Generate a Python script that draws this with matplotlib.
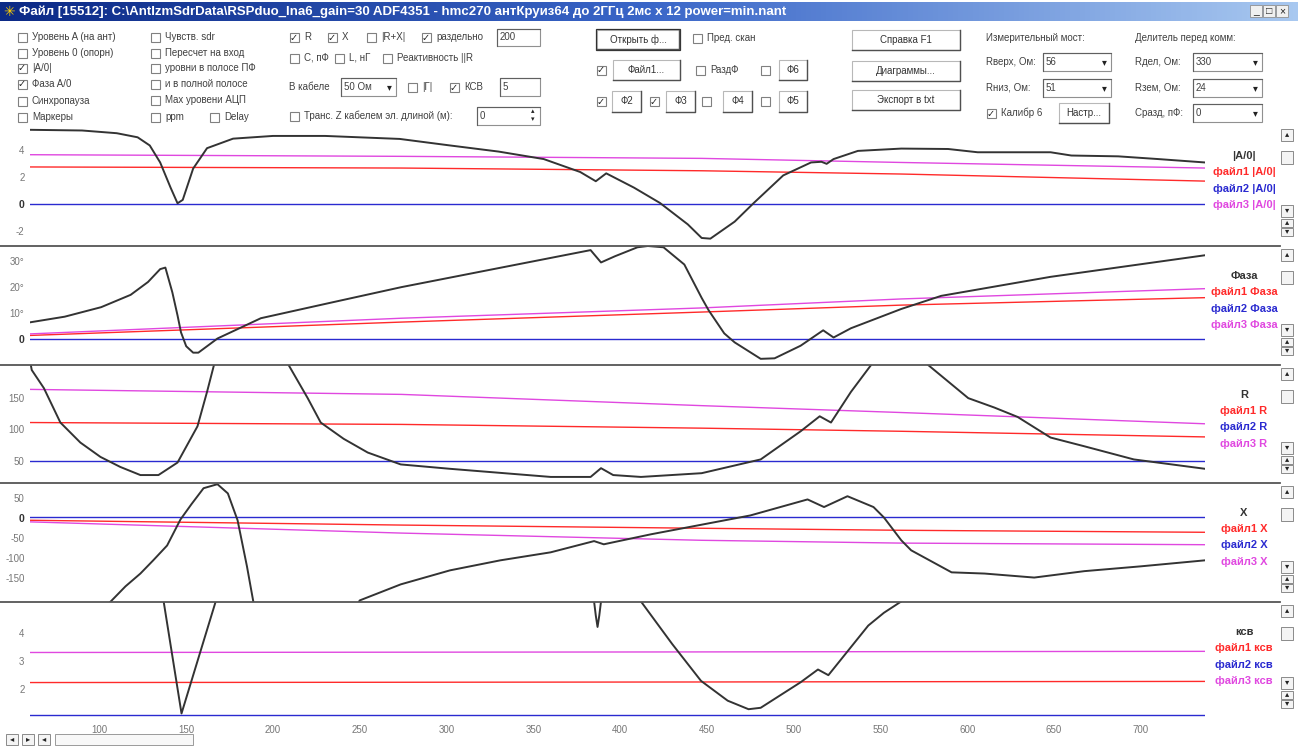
import numpy as np
import matplotlib
matplotlib.use('Agg')
import matplotlib.pyplot as plt
from matplotlib.patches import Rectangle
from matplotlib.colors import LinearSegmentedColormap

plt.rcParams['font.family'] = ['Liberation Sans', 'DejaVu Sans']

W, H = 1298, 746

# ---------------- data ----------------
title = r"Файл [15512]: C:\AntIzmSdrData\RSPduo_lna6_gain=30 ADF4351 - hmc270 антКруиз64 до 2ГГц 2мс x 12 power=min.nant"

freq_ticks = [100, 150, 200, 250, 300, 350, 400, 450, 500, 550, 600, 650, 700]
ref_freq = [60, 274, 447, 562, 737]   # points where reference files were read

# |A/0|
a0_freq = [60, 90, 110, 122, 129, 135, 141, 145, 148, 154, 162, 177, 200, 230, 273, 302, 330, 356, 377, 386,
           392, 408, 423, 439, 447, 452, 466, 477, 494, 510, 516, 519, 523, 537, 562, 589, 606, 648, 660, 687,
           710, 737]
a0_val = [5.45, 5.4, 5.2, 4.9, 4.3, 3.05, 1.2, 0.05, 0.3, 2.6, 4.1, 4.8, 5.0, 5.0, 4.78, 4.3, 3.85, 3.3, 2.35, 1.67,
          2.25, 1.2, 0.07, -1.5, -2.5, -2.55, -1.3, 0.07, 2.1, 3.05, 3.1, 2.95, 3.3, 3.9, 4.07, 4.04, 3.8, 3.8, 3.56, 3.5,
          3.3, 3.05]
a0_f1 = [2.72, 2.64, 2.44, 2.2, 1.68]
a0_f2 = [0, 0, 0, 0, 0]
a0_f3 = [3.62, 3.5, 3.35, 3.05, 2.64]

# Фаза
ph_freq = [60, 80, 101, 118, 128, 135, 138, 142, 145, 147, 150, 154, 157, 160, 168, 193, 235, 274, 302, 383,
           389, 397, 410, 416, 425, 437, 447, 451, 460, 466, 481, 489, 504, 517, 523, 533, 562, 585, 648, 737]
ph_val = [6.3, 8.5, 12.2, 17, 22, 27, 27.6, 18, 9, 2.4, -3, -5.5, -5.5, -4, 0, 7.9, 14.2, 20, 23.7, 34.4,
          29.6, 32, 35.5, 36, 35.5, 28.8, 15.8, 11, 2, -1.5, -7.9, -7.7, -2.8, 3.2, 0.4, 4, 11.5, 16.6, 24, 32.4]
ph_f1 = [1.2, 6.4, 10.3, 13, 15.9]
ph_f2 = [0, 0, 0, 0, 0]
ph_f3 = [1.8, 7.9, 11.9, 15.4, 19.4]

# R
r_freq = [60, 61, 68, 77.5, 89, 100.6, 112, 123.6, 134, 145, 156.5, 162, 166, 170, 205, 209, 220, 227.5, 240.7, 254.6,
          273.6, 302, 360, 383, 389, 396, 412, 447, 481, 504, 515, 521.5, 533, 544.6, 550, 572, 577.5, 600.6, 615.6, 629,
          648, 667.5, 696, 737]
r_val = [210, 195, 166, 111, 79, 56, 40, 27, 27, 47, 105, 160, 203, 240, 240, 203, 150, 111, 85, 63,
         44, 37, 24, 24, 38, 27, 24, 30, 52, 97, 121, 111, 160, 203, 240, 240, 203, 150, 135, 120,
         87, 73, 52, 37]
r_f1 = [111, 108, 102, 97, 88]
r_f2 = [50, 50, 50, 50, 50]
r_f3 = [164, 156, 138, 127, 109]

# X
x_freq = [100, 106, 115, 123.6, 131, 139, 146.7, 153, 160, 168, 174, 179.6, 185, 190, 245, 250, 273.6, 302, 331, 360,
          385, 390.6, 396, 417.8, 475, 508, 517.5, 531, 546, 552, 562, 567.7, 591, 610, 638.6, 667.5, 700, 737]
x_val = [-240, -210, -170, -138, -105, -68, -3, 35, 75, 85, 62, -5, -120, -240, -240, -205, -165, -130, -105, -85,
         -57, -65, -60, -40, 7, 47, 28, 55, 28, 2, -55, -80, -135, -138, -148, -132, -120, -105]
x_f1 = [-5, -17, -25, -30, -35]
x_f2 = [2, 2, 2, 2, 2]
x_f3 = [-9, -37, -55, -62, -66]

# КСВ
ksv_freq = [60, 134, 137, 147.3, 167, 170, 384, 386, 387, 388, 390, 410, 412, 430, 446.6, 462, 474, 481, 504, 514,
            520, 543, 552, 562, 565, 737]
ksv_val = [5.6, 5.6, 5.1, 1.15, 5.1, 5.6, 5.6, 4.6, 4.2, 4.6, 5.6, 5.6, 5.1, 3.6, 2.3, 1.6, 1.3, 1.35, 2.25, 2.7,
           2.5, 4.25, 4.7, 5.1, 5.6, 5.6]
ksv_f1 = [2.24, 2.25, 2.26, 2.27, 2.28]
ksv_f2 = [1.1, 1.1, 1.1, 1.1, 1.1]
ksv_f3 = [3.3, 3.31, 3.32, 3.33, 3.34]

RED, BLUE, MAG, BLK = '#ff2a2a', '#2a2ad0', '#e048e0', '#333333'

# panels: (top px, bottom px, ylim, yticks, yticklabels, name, data)
panels = [
    (126, 246, (-3.09, 5.73), [-2, 0, 2, 4], ['-2', '0', '2', '4'], '|A/0|',
     (a0_freq, a0_val, a0_f1, a0_f2, a0_f3)),
    (246, 365, (-10.3, 36), [0, 10, 20, 30], ['0', '10°', '20°', '30°'], 'Фаза',
     (ph_freq, ph_val, ph_f1, ph_f2, ph_f3)),
    (365, 483, (14.3, 203), [50, 100, 150], ['50', '100', '150'], 'R',
     (r_freq, r_val, r_f1, r_f2, r_f3)),
    (483, 602, (-209, 88), [-150, -100, -50, 0, 50], ['-150', '-100', '-50', '0', '50'], 'X',
     (x_freq, x_val, x_f1, x_f2, x_f3)),
    (602, 718, (0.99, 5.08), [2, 3, 4], ['2', '3', '4'], 'ксв',
     (ksv_freq, ksv_val, ksv_f1, ksv_f2, ksv_f3)),
]

fig = plt.figure(figsize=(W / 100, H / 100), dpi=100)
fig.patch.set_facecolor('white')

axes = []
for i, (top, bot, ylim, yt, ytl, name, d) in enumerate(panels):
    ax = fig.add_axes([30 / W, 1 - bot / H, 1175 / W, (bot - top) / H])
    ax.patch.set_alpha(0)
    f, v, f1, f2, f3 = d
    ax.plot(ref_freq, f2, color=BLUE, lw=1.0)
    ax.plot(ref_freq, f1, color=RED, lw=1.0)
    ax.plot(ref_freq, f3, color=MAG, lw=1.0)
    ax.plot(f, v, color=BLK, lw=1.4)
    ax.set_xlim(60, 737)
    ax.set_ylim(*ylim)
    ax.set_yticks(yt, ytl)
    for s in ax.spines.values():
        s.set_visible(False)
    ax.tick_params(axis='y', length=0, pad=4, labelsize=7, labelcolor='#777777')
    for t in ax.get_yticklabels():
        if t.get_text() == '0':
            t.set_fontweight('bold')
            t.set_color('#333333')
            t.set_fontsize(7.5)
    if i == len(panels) - 1:
        ax.set_xticks(freq_ticks, [str(t) for t in freq_ticks])
        ax.tick_params(axis='x', length=0, pad=5, labelsize=7, labelcolor='#777777')
    else:
        ax.set_xticks([])
    axes.append(ax)

# ---------------- window chrome / controls ----------------
ui = fig.add_axes([0, 0, 1, 1], zorder=10)
ui.patch.set_alpha(0)
ui.axis('off')

cm = LinearSegmentedColormap.from_list('tb', ['#0c2a86', '#3a66c8', '#a8c8f0'])
ui.imshow(np.linspace(0, 1, 256)[None, :], cmap=cm, extent=[0, W, 21, 2], aspect='auto', zorder=0)
ui.text(9, 11.5, '✳', color='#ffd000', fontsize=10, ha='center', va='center', fontweight='bold')
ui.text(19, 11.5, title, color='white', fontsize=9.5, fontweight='bold', va='center')
for bx, s in zip([1250, 1263, 1276], ['_', '□', '×']):
    ui.add_patch(Rectangle((bx, 5), 12, 12, fc='#f0f0f0', ec='#909090', lw=0.6))
    ui.text(bx + 6, 11, s, fontsize=7.5, ha='center', va='center', color='#222')


def chk(x, y, on):
    ui.add_patch(Rectangle((x - 4.5, y - 4.5), 9, 9, fc='white', ec='#808080', lw=0.8))
    if on:
        ui.text(x, y + 0.5, '✓', fontsize=7, ha='center', va='center', color='#222', fontweight='bold')


def lbl(x, y, s, **kw):
    ui.text(x, y, s, fontsize=7, va='center', color='#404040', **kw)


def cb(x, y, s, on=False):
    chk(x, y, on)
    lbl(x + 10, y, s)


def btn(x0, y0, x1, y1, s, focus=False):
    ui.add_patch(Rectangle((x0, y0), x1 - x0, y1 - y0, fc='white', ec='#b8b8b8', lw=0.8))
    ui.plot([x0, x1, x1], [y1, y1, y0], color='#505050', lw=1.0)
    if focus:
        ui.add_patch(Rectangle((x0 - 1, y0 - 1), x1 - x0 + 2, y1 - y0 + 2, fc='none', ec='#303030', lw=0.9))
    ui.text((x0 + x1) / 2, (y0 + y1) / 2, s, fontsize=7, ha='center', va='center', color='#333')


def box(x0, y0, x1, y1, s, arrow=None):
    ui.add_patch(Rectangle((x0, y0), x1 - x0, y1 - y0, fc='white', ec='#909090', lw=0.8))
    ui.plot([x0, x0, x1], [y1, y0, y0], color='#606060', lw=0.8)
    lbl(x0 + 3, (y0 + y1) / 2, s)
    if arrow == 'combo':
        ui.text(x1 - 7, (y0 + y1) / 2, '▾', fontsize=7, ha='center', va='center', color='#222')
    elif arrow == 'spin':
        ui.text(x1 - 7, (y0 + y1) / 2 - 4, '▴', fontsize=5, ha='center', va='center', color='#222')
        ui.text(x1 - 7, (y0 + y1) / 2 + 4, '▾', fontsize=5, ha='center', va='center', color='#222')


# column 1
for y, s, on in [(37, 'Уровень A (на ант)', False), (53, 'Уровень 0 (опорн)', False), (68, '|A/0|', True),
                 (84, 'Фаза A/0', True), (101, 'Синхропауза', False), (117, 'Маркеры', False)]:
    cb(22, y, s, on)
# column 2
for y, s in [(37, 'Чувств. sdr'), (53, 'Пересчет на вход'), (68, 'уровни в полосе ПФ'),
             (84, 'и в полной полосе'), (100, 'Max уровени АЦП'), (117, 'ppm')]:
    cb(155, y, s)
cb(214, 117, 'Delay')
# column 3
cb(294, 37, 'R', True)
cb(332, 37, 'X', True)
cb(371, 37, '|R+X|')
cb(426, 37, 'раздельно', True)
box(497, 29, 540, 46, '200')
cb(294, 58, 'С, пФ')
cb(339, 58, 'L, нГ')
cb(387, 58, 'Реактивность ||R')
lbl(289, 87, 'В кабеле')
box(341, 78, 396, 96, '50 Ом', 'combo')
cb(412, 87, '|Г|')
cb(454, 87, 'КСВ', True)
box(500, 78, 540, 96, '5')
cb(294, 116, 'Транс. Z кабелем эл. длиной (м):')
box(477, 107, 540, 125, '0', 'spin')
# column 4
btn(597, 30, 679, 49, 'Открыть ф...', focus=True)
cb(697, 38, 'Пред. скан')
chk(601, 70, True)
btn(613, 60, 680, 80, 'Файл1...')
cb(700, 70, 'РаздФ')
chk(765, 70, False)
btn(779, 60, 807, 80, 'Ф6')
chk(601, 101, True)
btn(612, 91, 641, 112, 'Ф2')
chk(654, 101, True)
btn(666, 91, 695, 112, 'Ф3')
chk(706, 101, False)
btn(723, 91, 752, 112, 'Ф4')
chk(765, 101, False)
btn(779, 91, 807, 112, 'Ф5')
# buttons
btn(852, 30, 960, 50, 'Справка F1')
btn(852, 61, 960, 81, 'Диаграммы...')
btn(852, 90, 960, 110, 'Экспорт в txt')
# bridge
lbl(986, 38, 'Измерительный мост:')
lbl(986, 62, 'Rверх, Ом:')
box(1043, 53, 1111, 71, '56', 'combo')
lbl(986, 88, 'Rниз, Ом:')
box(1043, 79, 1111, 97, '51', 'combo')
cb(991, 113, 'Калибр 6', True)
btn(1059, 103, 1109, 123, 'Настр...')
lbl(1135, 38, 'Делитель перед комм:')
lbl(1135, 62, 'Rдел, Ом:')
box(1193, 53, 1262, 71, '330', 'combo')
lbl(1135, 88, 'Rзем, Ом:')
box(1193, 79, 1262, 97, '24', 'combo')
lbl(1135, 113, 'Сразд, пФ:')
box(1193, 104, 1262, 122, '0', 'combo')

# panel separators, right-hand legends and scrollbars
for k, (top, bot, ylim, yt, ytl, name, d) in enumerate(panels):
    if k > 0:
        ui.plot([0, 1280], [top, top], color='#555555', lw=1.3)
    ui.text(1244, top + 30, name, fontsize=8, fontweight='bold', ha='center', va='center', color='#333333')
    for j, c in enumerate([RED, BLUE, MAG]):
        ui.text(1244, top + 46 + 16.5 * j, 'файл%d %s' % (j + 1, name), fontsize=8, fontweight='bold',
                ha='center', va='center', color=c)
    sb = [(top + 3, top + 15, '▴'), (top + 25, top + 38, ''), (bot - 41, bot - 29, '▾'),
          (bot - 27, bot - 19, '▴'), (bot - 18, bot - 10, '▾')]
    for y0, y1, s in sb:
        ui.add_patch(Rectangle((1281, y0), 12, y1 - y0, fc='#f4f4f4', ec='#8a8a8a', lw=0.7))
        if s:
            ui.text(1287, (y0 + y1) / 2, s, fontsize=6, ha='center', va='center', color='#222')

# bottom scrollbar
for bx, s in zip([6, 22, 38], ['◂', '▸', '◂']):
    ui.add_patch(Rectangle((bx, 734), 12, 11, fc='#f4f4f4', ec='#8a8a8a', lw=0.7))
    ui.text(bx + 6, 739.5, s, fontsize=6, ha='center', va='center', color='#222')
ui.add_patch(Rectangle((55, 734), 138, 11, fc='#f8f8f8', ec='#9a9a9a', lw=0.7))

ui.set_xlim(0, W)
ui.set_ylim(H, 0)

fig.savefig('out.png', dpi=100)
